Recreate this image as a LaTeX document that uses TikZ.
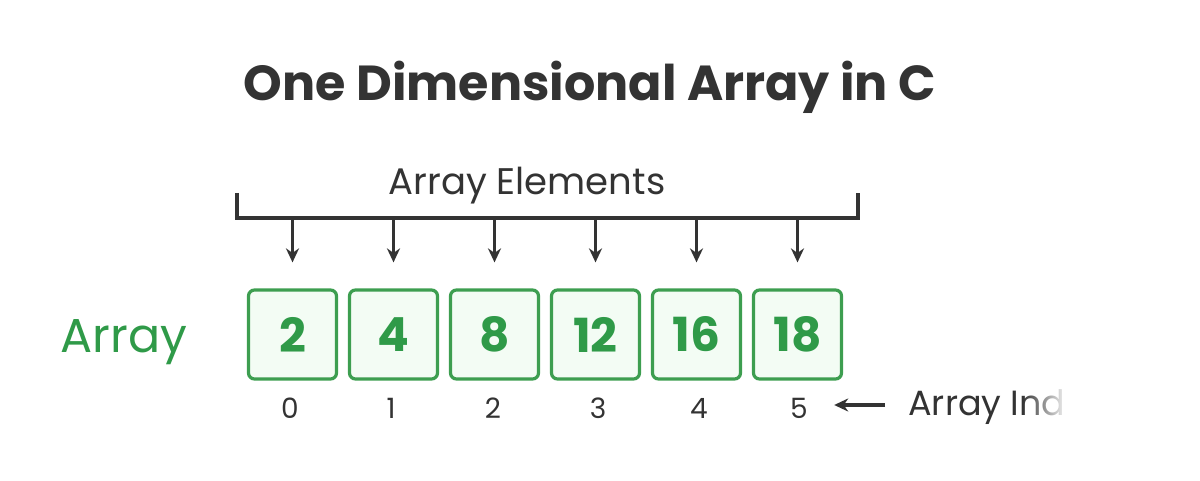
\documentclass[tikz,border=0pt]{standalone}
\usepackage{fontspec}
\setmainfont{Poppins}
\usetikzlibrary{arrows.meta,fadings}

\definecolor{gfggreen}{HTML}{2F9A48}
\definecolor{cellline}{HTML}{3D9E50}
\definecolor{cellfill}{HTML}{F3FCF4}
\definecolor{darktext}{HTML}{333333}

\tikzset{
  cell/.style={rectangle,rounded corners=3pt,draw=cellline,fill=cellfill,
    line width=1.6pt,minimum width=44pt,minimum height=44.5pt,inner sep=0pt,
    text=gfggreen,font=\fontsize{23.5}{23.5}\selectfont\bfseries},
  idx/.style={anchor=base,inner sep=0pt,text=darktext,
    font=\fontsize{14}{14}\selectfont},
}

\begin{document}
\begin{tikzpicture}[x=0.5pt,y=-0.5pt,>={Stealth[length=7pt,width=6.5pt]}]
\useasboundingbox (0,0) rectangle (1200,481);

            \node[anchor=base,text=darktext,font=\fontsize{24.6}{24.6}\selectfont\bfseries]
            	(title) 	at (590,101) {One Dimensional Array in C};
            \node[anchor=base,text=darktext,font=\fontsize{18.5}{18.5}\selectfont]
            	(elems) 	at (527,194) {Array Elements};
            \node[anchor=base,text=gfggreen,font=\fontsize{23.8}{23.8}\selectfont]
            	(arr) 		at (124,352) {Array};

            % die Zellen
            \node[cell] (b1) at (292.5,334.5) {2};
            \node[cell] (b2) at (393.5,334.5) {4};
            \node[cell] (b3) at (494.5,334.5) {8};
            \node[cell] (b4) at (595.5,334.5) {12};
            \node[cell] (b5) at (696.5,334.5) {16};
            \node[cell] (b6) at (797.5,334.5) {18};

            % Indizes
            \node[idx] (i0) at (290,418) {0};
            \node[idx] (i1) at (391,418) {1};
            \node[idx] (i2) at (493,418) {2};
            \node[idx] (i3) at (598,418) {3};
            \node[idx] (i4) at (699,418) {4};
            \node[idx] (i5) at (799,418) {5};
            \node[anchor=base west,inner sep=0pt,text=darktext,font=\fontsize{17.5}{17.5}\selectfont]
            	(idxlbl) 	at (908,415) {Array Ind};

            \coordinate (brl) at (237,193);
            \coordinate (brr) at (858,193);
            \coordinate (bar) at (0,218);
            \coordinate (idxarr) at (885,405);

            \begin{scope}[line width=1.7pt,draw=darktext]
                \draw (brl) |- (bar -| brr) -- (brr);
                \begin{scope}[shorten >=13pt]
                    \path[->] (b1 |- bar) edge (b1);
                    \path[->] (b2 |- bar) edge (b2);
                    \path[->] (b3 |- bar) edge (b3);
                    \path[->] (b4 |- bar) edge (b4);
                    \path[->] (b5 |- bar) edge (b5);
                    \path[->] (b6 |- bar) edge (b6);
                \end{scope}
                \draw[->,shorten >=13pt] (idxarr) -- (idxarr -| i5.east);
            \end{scope}

            \fill[white,path fading=west] (1022,380) rectangle (1068,430);
            \fill[white] (1068,380) rectangle (1110,430);
        \end{tikzpicture}
\end{document}
